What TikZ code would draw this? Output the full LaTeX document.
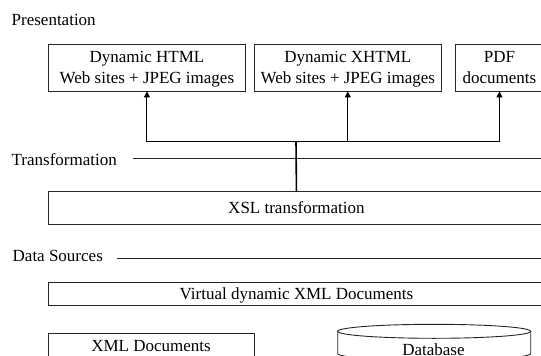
\documentclass[tikz,border=0pt]{standalone}
\usepackage{fontspec}
\setmainfont{Liberation Serif}
\usetikzlibrary{arrows.meta}
\tikzset{
  box/.style={draw=black!85,line width=0.9pt,rectangle,inner sep=0pt,anchor=north west,align=center,text depth=0pt,font=\fontsize{17}{21}\selectfont},
  txt/.style={inner sep=0pt,align=center,font=\fontsize{17}{21}\selectfont},
  rule/.style={draw=black!85,line width=0.9pt},
  tree/.style={draw=black,line width=1pt},
  treearrow/.style={tree,-{Triangle[length=6pt,width=6pt]}},
  stem/.style={draw=black,line width=1.6pt}
}
\begin{document}
\begin{tikzpicture}[x=1pt,y=-1pt]
\useasboundingbox (0,0) rectangle (541,356);
\clip (0,0) rectangle (541,356);
% layer labels
\node[txt,anchor=west] (pres) at (11.5,20) {Presentation};
\node[txt,anchor=west] (trans) at (11.5,159.5) {Transformation};
\node[txt,anchor=west] (data) at (12.5,256) {Data Sources};
% layer rules
\coordinate (transEnd) at (545,158.3);
\coordinate (dataEnd) at (545,258.3);
\draw[rule] (133,158.3) -- (transEnd);
\draw[rule] (116.5,258.3) -- (dataEnd);
% presentation boxes
\node[box,minimum width=197pt,minimum height=47pt] (html) at (48,43.5) {Dynamic HTML\\Web sites + JPEG images};
\node[box,minimum width=187.5pt,minimum height=47pt] (xhtml) at (253.6,43.5) {Dynamic XHTML\\Web sites + JPEG images};
\node[box,minimum width=89pt,minimum height=47pt] (pdf) at (454.5,43.5) {PDF\\documents};
% lower boxes
\node[box,minimum width=496pt,minimum height=33pt] (xsl) at (48,191) {XSL transformation};
\node[box,minimum width=496pt,minimum height=23.5pt] (virt) at (48,281.8) {Virtual dynamic XML Documents};
\node[box,minimum width=206pt,minimum height=40pt] (xml) at (48,333) {};
\node[txt] (xmltext) at (151,346.5) {XML Documents};
% database
\draw[rule] (337.7,331.3) -- (337.7,353.5) arc[start angle=180,end angle=360,x radius=96.5pt,y radius=7pt] -- (530.7,331.3);
\draw[rule] (434.2,331.3) ellipse[x radius=96.5pt,y radius=7pt];
\node[txt] (dbtext) at (433.5,350) {Database};
% connectors
\coordinate (hub) at (296,141);
\draw[stem] (xsl.north) -- (hub);
\draw[treearrow] (hub) -| (html.south);
\draw[treearrow] (hub) -| (xhtml.south);
\draw[treearrow] (hub) -| (pdf.south);
\end{tikzpicture}
\end{document}
